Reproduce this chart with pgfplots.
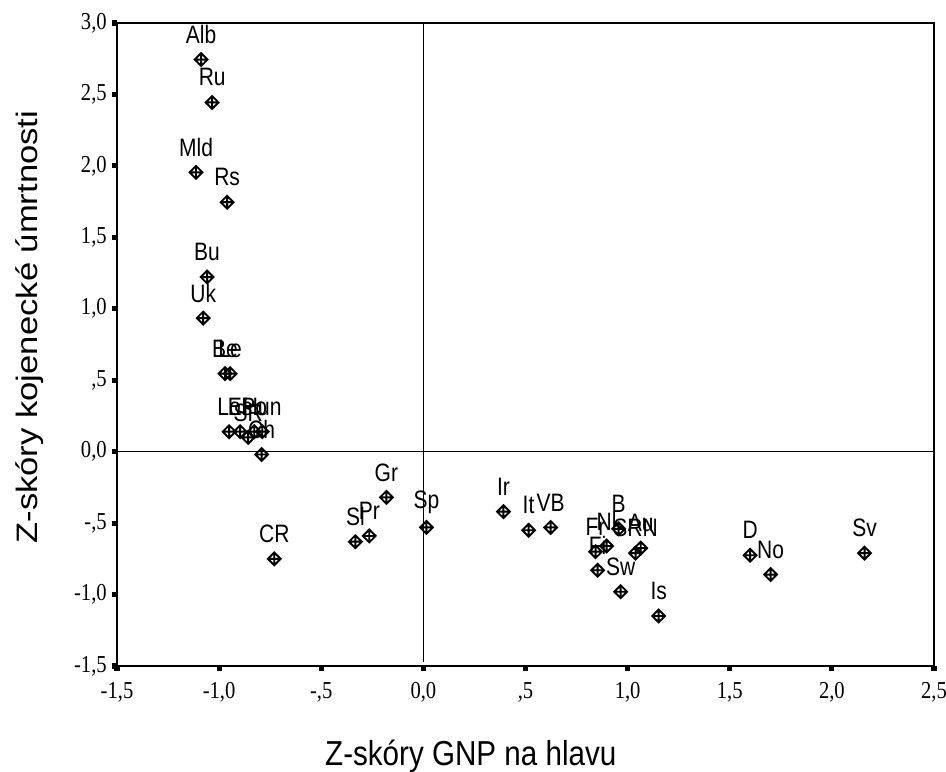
\documentclass[border=0pt]{standalone}
\usepackage{pgfplots}
\pgfplotsset{compat=1.18}
\usepackage{pgfplotstable}
\usepackage{graphicx}
\usepackage{fontspec}
\setmainfont{Liberation Sans}
\newfontfamily\tnr{Liberation Serif}
\newcommand\T[1]{\scalebox{1}[1.18]{\tnr\fontsize{10.3}{12}\selectfont #1}}
\pgfdeclareplotmark{dplus}{%
  \pgfpathmoveto{\pgfqpoint{0pt}{\pgfplotmarksize}}%
  \pgfpathlineto{\pgfqpoint{\pgfplotmarksize}{0pt}}%
  \pgfpathlineto{\pgfqpoint{0pt}{-\pgfplotmarksize}}%
  \pgfpathlineto{\pgfqpoint{-\pgfplotmarksize}{0pt}}%
  \pgfpathclose
  \pgfpathmoveto{\pgfqpoint{0pt}{\pgfplotmarksize}}%
  \pgfpathlineto{\pgfqpoint{0pt}{-\pgfplotmarksize}}%
  \pgfpathmoveto{\pgfqpoint{\pgfplotmarksize}{0pt}}%
  \pgfpathlineto{\pgfqpoint{-\pgfplotmarksize}{0pt}}%
  \pgfusepathqstroke}

\pgfplotstableread{
x y label
-1.088 2.744 Alb
-1.034 2.444 Ru
-1.113 1.955 Mld
-0.961 1.746 Rs
-1.059 1.222 Bu
-1.078 0.935 Uk
-0.971 0.546 Be
-0.946 0.546 Le
-0.951 0.14 Lo
-0.897 0.14 Es
-0.858 0.10 SR
-0.828 0.14 Po
-0.789 0.14 Hun
-0.792 -0.02 Ch
-0.730 -0.75 CR
-0.333 -0.63 Sl
-0.265 -0.59 Pr
-0.181 -0.32 Gr
0.015 -0.53 Sp
0.392 -0.42 Ir
0.515 -0.55 It
0.623 -0.53 VB
0.956 -0.54 B
0.897 -0.66 Nl
0.843 -0.70 Fr
0.853 -0.83 Fi
0.966 -0.98 Sw
1.064 -0.675 Au
1.039 -0.71 SRN
1.152 -1.15 Is
1.60 -0.725 D
1.70 -0.86 No
2.16 -0.71 Sv
}\data

\begin{document}
\begin{tikzpicture}
\path[use as bounding box] (0,0) rectangle (473pt,385.5pt);
\begin{axis}[
  at={(58.5pt,52.5pt)}, anchor=south west,
  scale only axis, width=408.5pt, height=321.5pt,
  xmin=-1.5, xmax=2.5, ymin=-1.5, ymax=3,
  clip=false,
  axis line style={line width=0.9pt},
  tick pos=left, tick align=outside,
  major tick length=2.6pt,
  tick style={line width=2.6pt, black},
  xtick={-1.5,-1,-0.5,0,0.5,1,1.5,2,2.5},
  xticklabels={\T{-1,5},\T{-1,0},\T{-,5},\T{0,0},\T{,5},\T{1,0},\T{1,5},\T{2,0},\T{2,5}},
  xticklabel style={yshift=-2pt},
  ytick={-1.5,-1,-0.5,0,0.5,1,1.5,2,2.5,3},
  yticklabels={\T{-1,5},\T{-1,0},\T{-,5},\T{0,0},\T{,5},\T{1,0},\T{1,5},\T{2,0},\T{2,5},\T{3,0}},
  yticklabel style={xshift=1pt},
  xlabel={\scalebox{1}[1.17]{\fontsize{14.8}{17}\selectfont Z-skóry GNP na hlavu}},
  xlabel style={at={([yshift=-49.5pt]axis description cs:0.433,0)}, anchor=base},
  ylabel={\scalebox{1.17}[1]{\fontsize{14.8}{17}\selectfont Z-skóry kojenecké úmrtnosti}},
  ylabel style={at={([xshift=-43.5pt]axis description cs:0,0.527)}, anchor=center},
]
\draw[line width=0.75pt] (axis cs:-1.5,0) -- (axis cs:2.5,0);
\draw[line width=0.75pt] (axis cs:0,-1.47) -- (axis cs:0,3);
\addplot[only marks, mark=dplus, mark size=3.2pt, mark options={line width=0.95pt, black},
  point meta=explicit symbolic,
  nodes near coords={\scalebox{1}[1.2]{\fontsize{10.5}{12}\selectfont\pgfplotspointmeta}},
  nodes near coords style={anchor=center, yshift=12.5pt, inner sep=0pt}]
  table[x=x, y=y, meta=label] {\data};
\end{axis}
\end{tikzpicture}
\end{document}
